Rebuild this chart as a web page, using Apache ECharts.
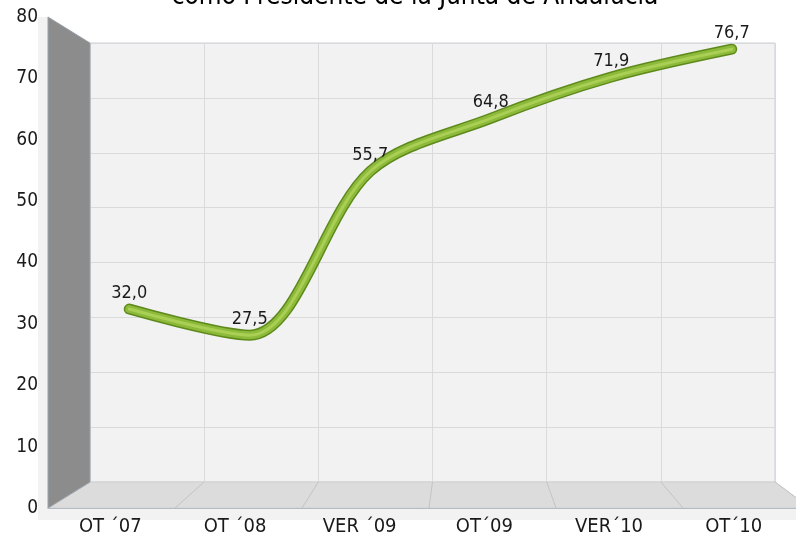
<!DOCTYPE html>
<html>
<head>
<meta charset="utf-8">
<script src="https://cdn.jsdelivr.net/npm/echarts@6/dist/echarts.min.js"></script>
<style>html,body{margin:0;padding:0;background:#fff}#c{width:796px;height:539px}</style>
</head>
<body>
<div id="c"></div>
<script>
const titleText = 'como Presidente de la Junta de Andalucía';
const categories = ['OT \u00B407', 'OT \u00B408', 'VER \u00B409', 'OT\u00B409', 'VER\u00B410', 'OT\u00B410'];
const values = [32.0, 27.5, 55.7, 64.8, 71.9, 76.7];
const yMin = 0, yMax = 80, yStep = 10;

// 3D-like layout: back wall, front plane, middle plane (where the line sits)
const BACK = {left: 90, top: 43, width: 685, height: 439};
const FRONT = {left: 48, top: 17, width: 762, height: 491};
const MID = {left: 69, top: 30, width: 723, height: 465};
const FONT = '"DejaVu Sans Condensed", "DejaVu Sans", Verdana, sans-serif';
const SMOOTH = 0.32;

const chart = echarts.init(document.getElementById('c'), null, {renderer: 'canvas'});

const backBottom = BACK.top + BACK.height;
const frontBottom = FRONT.top + FRONT.height;
const n = categories.length;
const floorLines = [];
for (let k = 0; k <= n; k++) {
  const fx = FRONT.left + FRONT.width * k / n;
  const bx = BACK.left + BACK.width * k / n;
  floorLines.push({
    type: 'line', z: 1,
    shape: {x1: fx, y1: frontBottom, x2: bx, y2: backBottom},
    style: {stroke: '#c4c4c4', lineWidth: 1}
  });
}

const axisCommon = {min: yMin, max: yMax, interval: yStep};
const lineBase = {type: 'line', xAxisIndex: 2, yAxisIndex: 2, data: values, smooth: SMOOTH,
  symbol: 'circle', symbolSize: 2, showSymbol: true, itemStyle: {color: 'rgba(0,0,0,0)', borderWidth: 0}};

chart.setOption({
  animation: false,
  backgroundColor: '#ffffff',
  grid: [
    Object.assign({show: true, backgroundColor: '#f2f2f2', borderColor: '#c9d0d8', borderWidth: 1}, BACK),
    Object.assign({show: false}, FRONT),
    Object.assign({show: false}, MID)
  ],
  xAxis: [
    {gridIndex: 0, type: 'category', data: categories, boundaryGap: true,
     axisLine: {show: false}, axisTick: {show: false}, axisLabel: {show: false},
     splitLine: {show: true, lineStyle: {color: '#dadada', width: 1}}},
    {gridIndex: 1, type: 'category', data: categories, boundaryGap: true,
     axisLine: {show: true, lineStyle: {color: '#98a6b6', width: 1}}, axisTick: {show: false},
     axisLabel: {show: true, margin: 9, fontSize: 20, color: '#1a1a1a', fontFamily: FONT},
     splitLine: {show: false}},
    {gridIndex: 2, type: 'category', data: categories, boundaryGap: true, show: false}
  ],
  yAxis: [
    Object.assign({gridIndex: 0, type: 'value', axisLine: {show: false}, axisTick: {show: false},
      axisLabel: {show: false}, splitLine: {show: true, lineStyle: {color: '#dadada', width: 1}}}, axisCommon),
    Object.assign({gridIndex: 1, type: 'value', axisLine: {show: false}, axisTick: {show: false},
      axisLabel: {show: true, margin: 10, fontSize: 19, color: '#1a1a1a', fontFamily: FONT},
      splitLine: {show: false}}, axisCommon),
    Object.assign({gridIndex: 2, type: 'value', show: false}, axisCommon)
  ],
  graphic: [
    {type: 'rect', z: 0, shape: {x: FRONT.left - 10, y: FRONT.top, width: 10, height: FRONT.height + 12}, style: {fill: '#f2f2f2'}},
    {type: 'rect', z: 0, shape: {x: FRONT.left - 10, y: frontBottom, width: 796 - FRONT.left + 10, height: 12}, style: {fill: '#f2f2f2'}},
    {type: 'polygon', z: 1,
     shape: {points: [[FRONT.left, frontBottom], [BACK.left, backBottom], [BACK.left + BACK.width, backBottom], [FRONT.left + FRONT.width, frontBottom]]},
     style: {fill: '#dcdcdc', stroke: '#d0d0d0', lineWidth: 1}},
    ...floorLines,
    {type: 'polygon', z: 1,
     shape: {points: [[FRONT.left, FRONT.top], [BACK.left, BACK.top], [BACK.left, backBottom], [FRONT.left, frontBottom]]},
     style: {fill: '#8c8c8c', stroke: '#9aa3ad', lineWidth: 1}},
    {type: 'text', z: 5, x: 415, y: -16,
     style: {text: titleText, font: '26px ' + FONT, fill: '#000', align: 'center', verticalAlign: 'top'}}
  ],
  series: [
    Object.assign({}, lineBase, {z: 2,
     lineStyle: {color: '#5e8a1c', width: 11, cap: 'round'},
     label: {show: true, position: 'top', distance: 6, fontSize: 18, color: '#1a1a1a', fontFamily: FONT,
       formatter: p => p.value.toFixed(1).replace('.', ',')}}),
    Object.assign({}, lineBase, {z: 3, silent: true, label: {show: false},
     lineStyle: {color: '#8dba3a', width: 8, cap: 'round'}}),
    Object.assign({}, lineBase, {z: 4, silent: true, label: {show: false},
     lineStyle: {color: '#a9cf55', width: 3, cap: 'round'}})
  ]
});
</script>
</body>
</html>
